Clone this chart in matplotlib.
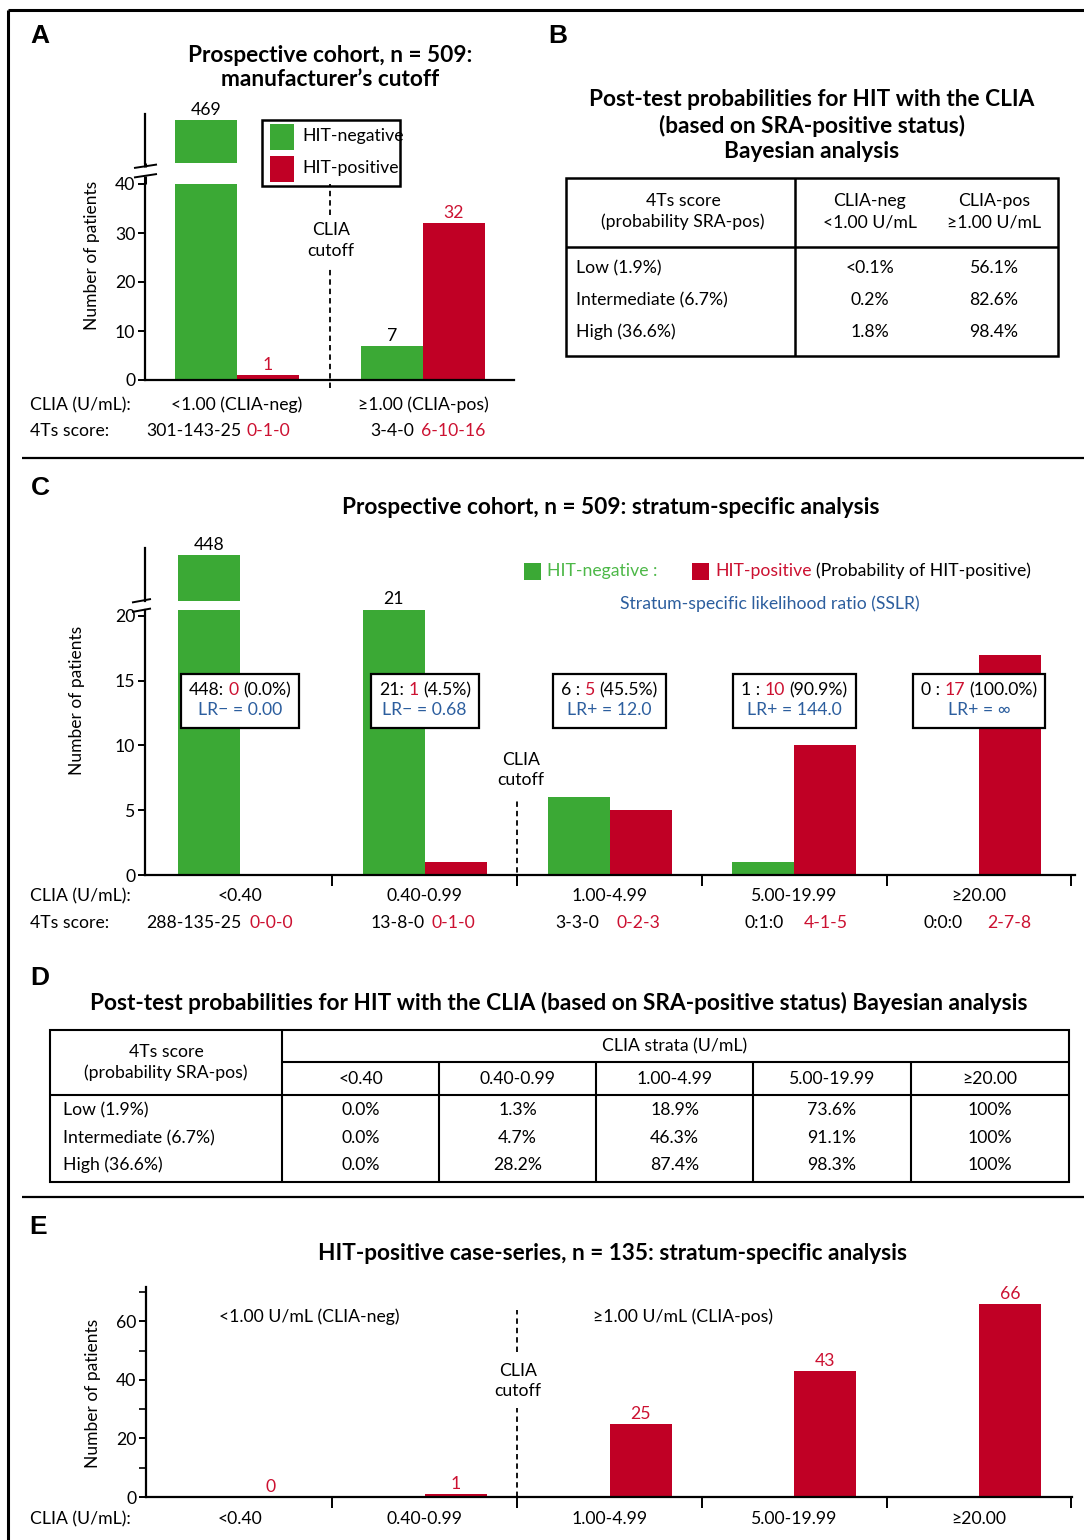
import matplotlib
matplotlib.use('Agg')
import matplotlib.pyplot as plt
import numpy as np
from matplotlib.patches import Rectangle

# ---------------- data ----------------
a_groups = ['<1.00 (CLIA-neg)', '≥1.00 (CLIA-pos)']
a_neg = [469, 7]
a_pos = [1, 32]
a_4ts_neg = ['301-143-25', '3-4-0']
a_4ts_pos = ['0-1-0', '6-10-16']

b_rows = ['Low (1.9%)', 'Intermediate (6.7%)', 'High (36.6%)']
b_neg = ['<0.1%', '0.2%', '1.8%']
b_pos = ['56.1%', '82.6%', '98.4%']

c_strata = ['<0.40', '0.40-0.99', '1.00-4.99', '5.00-19.99', '≥20.00']
c_neg = [448, 21, 6, 1, 0]
c_pos = [0, 1, 5, 10, 17]
c_prob = ['0.0%', '4.5%', '45.5%', '90.9%', '100.0%']
c_lr = ['LR− = 0.00', 'LR− = 0.68', 'LR+ = 12.0', 'LR+ = 144.0', 'LR+ = ∞']
c_4ts_neg = ['288-135-25', '13-8-0', '3-3-0', '0:1:0', '0:0:0']
c_4ts_pos = ['0-0-0', '0-1-0', '0-2-3', '4-1-5', '2-7-8']

d_rows = ['Low (1.9%)', 'Intermediate (6.7%)', 'High (36.6%)']
d_low = ['0.0%', '1.3%', '18.9%', '73.6%', '100%']
d_int = ['0.0%', '4.7%', '46.3%', '91.1%', '100%']
d_high = ['0.0%', '28.2%', '87.4%', '98.3%', '100%']

e_pos = [0, 1, 25, 43, 66]

# ---------------- style ----------------
W, H, DPI = 1084, 1540, 100
GREEN = '#3BA935'
RED = '#C00025'
RED_T = '#CC1131'
GREEN_T = '#4DB848'
BLUE_T = '#2C5E9E'
FS = 12.7
TS = 16.3
TW = 'bold'
plt.rcParams['font.family'] = ['Lato', 'DejaVu Sans']
plt.rcParams['font.size'] = FS

fig = plt.figure(figsize=(W / DPI, H / DPI), dpi=DPI)
renderer = fig.canvas.get_renderer()


def add_ax(x0, y0, x1, y1):
    return fig.add_axes([x0 / W, 1 - y1 / H, (x1 - x0) / W, (y1 - y0) / H])


def xlim_from(c0, step, left, right):
    return ((left - c0) / step, (right - c0) / step)


def style(ax):
    for s in ['top', 'right']:
        ax.spines[s].set_visible(False)
    ax.spines['left'].set_linewidth(1.6)
    ax.spines['bottom'].set_linewidth(1.6)
    ax.patch.set_alpha(0)
    ax.tick_params(axis='y', direction='out', length=5, width=1.4,
                   labelsize=FS, pad=2)
    ax.tick_params(axis='x', direction='out', length=8, width=1.4,
                   labelbottom=False)


DASH = dict(color='black', lw=1.3, ls=(0, (3, 2.2)), clip_on=False)

# ---------------- panel A axes ----------------
axA = add_ax(145, 184, 514, 380)
axAu = add_ax(145, 114, 514, 163)
wA = 62 / 186
xA = np.arange(len(a_groups))
for ax in (axA, axAu):
    style(ax)
    ax.set_xlim(*xlim_from(237, 186, 145, 514))
    ax.bar(xA - wA / 2, a_neg, wA, color=GREEN)
    ax.bar(xA + wA / 2, a_pos, wA, color=RED)
    ax.set_xticks([])
axA.set_ylim(0, 40)
axA.set_yticks([0, 10, 20, 30, 40])
axAu.set_ylim(455, 471)
axAu.set_yticks([])
axAu.spines['bottom'].set_visible(False)
for i in range(len(a_groups)):
    for v, off, col in ((a_neg[i], -wA / 2, 'black'), (a_pos[i], wA / 2, RED_T)):
        ax = axAu if v > 40 else axA
        ax.annotate(str(v), (xA[i] + off, v), xytext=(0, 1.5),
                    textcoords='offset points', ha='center', va='bottom',
                    color=col, fontsize=FS, annotation_clip=False)
axA.plot([0.5, 0.5], [-1.7, 23], **DASH)
axA.plot([0.5, 0.5], [33.7, 40], **DASH)

# ---------------- panel C axes ----------------
axC = add_ax(145, 609.5, 1075, 875)
axCu = add_ax(145, 548, 1075, 601)
wC = 62 / 184.75
xC = np.arange(len(c_strata))
for ax in (axC, axCu):
    style(ax)
    ax.set_xlim(*xlim_from(240, 184.75, 145, 1075))
    ax.bar(xC - wC / 2, c_neg, wC, color=GREEN)
    ax.bar(xC + wC / 2, c_pos, wC, color=RED)
axC.set_ylim(0, 20.5)
axC.set_yticks([0, 5, 10, 15, 20])
axC.set_xticks(list(xC + 0.5))
axCu.set_ylim(440, 449.2)
axCu.set_yticks([])
axCu.set_xticks([])
axCu.spines['bottom'].set_visible(False)
axC_top = axC.get_ylim()[1]
for i in (0, 1):
    v = c_neg[i]
    ax = axCu if v > 440 else axC
    yv = v if v > 440 else min(v, axC_top)
    ax.annotate(str(v), (xC[i] - wC / 2, yv), xytext=(0, 1.5),
                textcoords='offset points', ha='center', va='bottom',
                fontsize=FS, annotation_clip=False)
axC.plot([1.5, 1.5], [-0.55, 5.8], **DASH)

# ---------------- panel E axes ----------------
axE = add_ax(146, 1287, 1072, 1497)
style(axE)
axE.set_xlim(*xlim_from(240, 184.75, 146, 1072))
axE.bar(xC + wC / 2, e_pos, wC, color=RED)
axE.set_ylim(0, 71.7)
axE.set_yticks([0, 20, 40, 60])
axE.set_yticks([10, 30, 50, 70], minor=True)
axE.tick_params(axis='y', which='minor', direction='out', length=5, width=1.2)
axE.set_xticks(list(xC + 0.5))
for i, v in enumerate(e_pos):
    axE.annotate(str(v), (xC[i] + wC / 2, v), xytext=(0, 1.5),
                 textcoords='offset points', ha='center', va='bottom',
                 color=RED_T, fontsize=FS, annotation_clip=False)
axE.plot([1.5, 1.5], [0, 30.4], **DASH)
axE.plot([1.5, 1.5], [49.5, 63.8], **DASH)

# ---------------- overlay (pixel coordinates) ----------------
ax0 = fig.add_axes([0, 0, 1, 1])
ax0.set_xlim(0, W)
ax0.set_ylim(H, 0)
ax0.axis('off')
ax0.patch.set_alpha(0)


def px(ax, x):
    return ax.transData.transform((x, 0))[0]


def tw(s, **kw):
    t1 = ax0.text(0, 0, '|' + s + '|', **kw)
    w1 = t1.get_window_extent(renderer).width
    t1.remove()
    t2 = ax0.text(0, 0, '||', **kw)
    w2 = t2.get_window_extent(renderer).width
    t2.remove()
    return w1 - w2


def rich(x, y, pieces, ha='center', size=FS, weight='normal'):
    kw = dict(fontsize=size, fontweight=weight)
    widths = [tw(s, **kw) for s, c in pieces]
    total = sum(widths)
    pos = x - total / 2 if ha == 'center' else x
    for (s, c), w in zip(pieces, widths):
        lead = tw(s[:len(s) - len(s.lstrip(' '))], **kw) if s.startswith(' ') else 0
        if s.strip():
            ax0.text(pos + lead, y, s.strip(), color=c, ha='left', va='center', **kw)
        pos += w
    return total


def T(x, y, s, ha='center', size=FS, **kw):
    ax0.text(x, y, s, ha=ha, va='center', fontsize=size, **kw)


def L(xs, ys, lw=1.5, **kw):
    ax0.plot(xs, ys, color='black', lw=lw, solid_capstyle='butt', **kw)


# frame and separators
L([8, 1084], [10, 10], lw=2.2)
L([8, 8], [10, 1540], lw=2.2)
L([22, 1084], [458, 458], lw=1.6)
L([22, 1084], [1197, 1197], lw=1.6)

# panel letters
for lab, x, y in (('A', 40, 36), ('B', 558, 36), ('C', 40, 488), ('D', 40, 978), ('E', 38, 1227)):
    ax0.text(x, y, lab, ha='center', va='center', fontsize=19, fontweight='bold',
             family=['Liberation Sans', 'DejaVu Sans'])

# ---- panel A decorations ----
T(330, 55, 'Prospective cohort, n = 509:', size=TS, fontweight=TW)
T(330, 80, 'manufacturer\u2019s cutoff', size=TS, fontweight=TW)
ax0.text(92, 255, 'Number of patients', rotation=90, ha='center', va='center', fontsize=12.5)
# break marks
L([134, 157], [168, 164.5], lw=1.4)
L([134, 157], [177.5, 174], lw=1.4)
L([145, 145], [163, 166.5], lw=2.2)
L([145, 145], [176, 184], lw=2.2)
# legend
ax0.add_patch(Rectangle((262, 120), 138, 66, fill=False, lw=1.8, ec='black'))
ax0.add_patch(Rectangle((270, 124), 24, 26, color=GREEN, lw=0))
ax0.add_patch(Rectangle((270, 156), 24, 26, color=RED, lw=0))
T(302, 136, 'HIT-negative', ha='left')
T(302, 168, 'HIT-positive', ha='left')
T(331, 230, 'CLIA')
T(331, 251, 'cutoff')
T(30, 405, 'CLIA (U/mL):', ha='left')
T(30, 431, '4Ts score:', ha='left')
for i, g in enumerate(a_groups):
    T(px(axA, xA[i]), 405, g)
a_4ts_x = [(194, 268), (392, 453)]
for i in range(len(a_groups)):
    T(a_4ts_x[i][0], 431, a_4ts_neg[i])
    T(a_4ts_x[i][1], 431, a_4ts_pos[i], color=RED_T)

# ---- panel B ----
for s, y in (('Post-test probabilities for HIT with the CLIA', 100),
             ('(based on SRA-positive status)', 126),
             ('Bayesian analysis', 152)):
    T(812, y, s, size=TS, fontweight=TW)
ax0.add_patch(Rectangle((566, 178), 492, 178, fill=False, lw=1.8, ec='black'))
L([795, 795], [178, 356], lw=1.8)
L([566, 1058], [247, 247], lw=1.8)
T(683, 201, '4Ts score')
T(683, 222, '(probability SRA-pos)')
T(870, 201, 'CLIA-neg')
T(870, 222, '<1.00 U/mL')
T(994, 201, 'CLIA-pos')
T(994, 222, '≥1.00 U/mL')
for r, y in zip(range(3), (268, 300, 332)):
    T(576, y, b_rows[r], ha='left')
    T(870, y, b_neg[r])
    T(994, y, b_pos[r])

# ---- panel C decorations ----
T(611, 507, 'Prospective cohort, n = 509: stratum-specific analysis', size=TS, fontweight=TW)
ax0.text(77, 700, 'Number of patients', rotation=90, ha='center', va='center', fontsize=12.5)
L([132, 151], [602.5, 599], lw=1.4)
L([132, 151], [612, 608.5], lw=1.4)
ax0.add_patch(Rectangle((524, 563), 17, 17, color=GREEN, lw=0))
ax0.add_patch(Rectangle((692, 563), 17, 17, color=RED, lw=0))
T(547, 571, 'HIT-negative :', ha='left', color=GREEN_T)
rich(715, 571, [('HIT-positive', RED_T), (' (Probability of HIT-positive)', 'black')], ha='left')
T(770, 604, 'Stratum-specific likelihood ratio (SSLR)', color=BLUE_T)
T(521, 760, 'CLIA')
T(521, 780, 'cutoff')
for i in range(len(c_strata)):
    cx = px(axC, xC[i])
    sep = ': ' if i < 2 else ' : '
    w1 = rich(cx, 690, [(f'{c_neg[i]}{sep}', 'black'), (str(c_pos[i]), RED_T),
                        (f' ({c_prob[i]})', 'black')])
    w2 = tw(c_lr[i], fontsize=FS)
    T(cx, 710, c_lr[i], color=BLUE_T)
    bw = max(w1, w2) + 16
    ax0.add_patch(Rectangle((cx - bw / 2, 674), bw, 54, fc='white', ec='black',
                            lw=1.6, zorder=0.5))
T(30, 896, 'CLIA (U/mL):', ha='left')
T(30, 923, '4Ts score:', ha='left')
c_4ts_x = [(194, 271), (398, 453), (577, 638), (764, 826), (943, 1009)]
for i, g in enumerate(c_strata):
    T(px(axC, xC[i]), 896, g)
    T(c_4ts_x[i][0], 923, c_4ts_neg[i])
    T(c_4ts_x[i][1], 923, c_4ts_pos[i], color=RED_T)

# ---- panel D ----
T(559, 1003, 'Post-test probabilities for HIT with the CLIA (based on SRA-positive status) Bayesian analysis',
  size=TS, fontweight=TW)
ax0.add_patch(Rectangle((50, 1030), 1019, 152, fill=False, lw=1.5, ec='black'))
L([282, 282], [1030, 1182])
L([282, 1069], [1062, 1062])
L([50, 1069], [1095, 1095])
d_cols = [282, 439, 596, 753, 911, 1069]
for xv in d_cols[1:-1]:
    L([xv, xv], [1062, 1182])
T(166, 1052, '4Ts score')
T(166, 1073, '(probability SRA-pos)')
T(675, 1046, 'CLIA strata (U/mL)')
for j, g in enumerate(c_strata):
    cx = (d_cols[j] + d_cols[j + 1]) / 2
    T(cx, 1079, g)
    for vals, y in ((d_low, 1110), (d_int, 1138), (d_high, 1165)):
        T(cx, y, vals[j])
for r, y in zip(range(3), (1110, 1138, 1165)):
    T(63, y, d_rows[r], ha='left')

# ---- panel E decorations ----
T(612, 1253, 'HIT-positive case-series, n = 135: stratum-specific analysis', size=TS, fontweight=TW)
ax0.text(93, 1393, 'Number of patients', rotation=90, ha='center', va='center', fontsize=12.5)
T(309, 1317, '<1.00 U/mL (CLIA-neg)')
T(683, 1317, '≥1.00 U/mL (CLIA-pos)')
T(518, 1371, 'CLIA')
T(518, 1391, 'cutoff')
T(30, 1519, 'CLIA (U/mL):', ha='left')
for i, g in enumerate(c_strata):
    T(px(axE, xC[i]), 1519, g)

fig.savefig('out.png', dpi=DPI)
